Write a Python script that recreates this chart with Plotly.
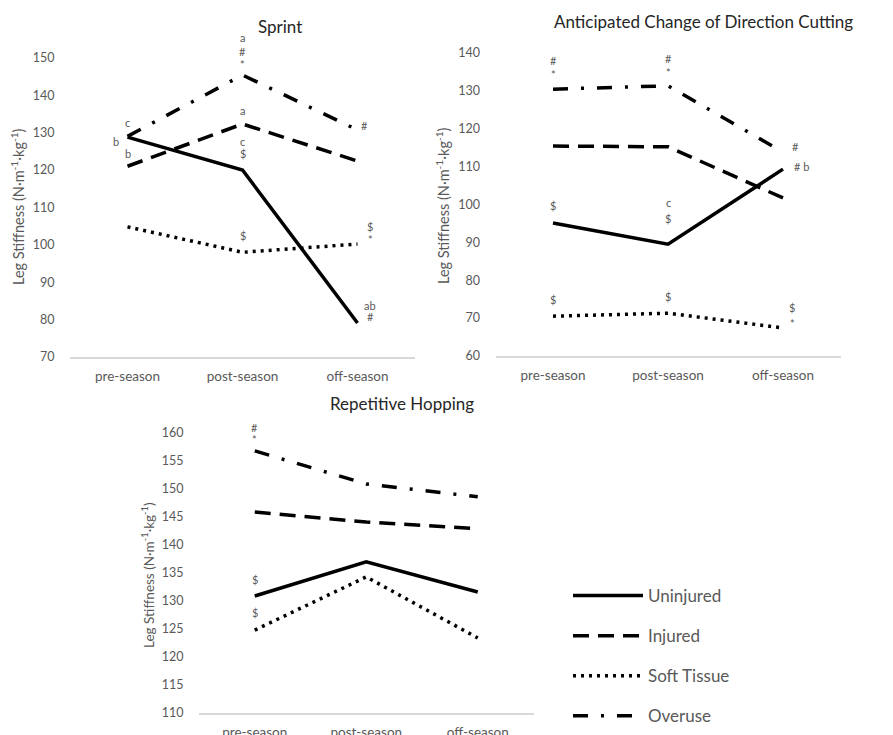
import plotly.graph_objects as go

W, H = 893, 735

categories = ["pre-season", "post-season", "off-season"]
series_names = ["Uninjured", "Injured", "Soft Tissue", "Overuse"]

# Sprint
sprint_uninjured = [128.8, 120.0, 79.1]
sprint_injured = [121.0, 132.3, 122.4]
sprint_soft = [104.8, 98.0, 100.2]
sprint_overuse = [129.0, 145.4, 130.7]

# Anticipated change of direction cutting
acod_uninjured = [95.1, 89.5, 109.3]
acod_injured = [115.4, 115.2, 101.7]
acod_soft = [70.5, 71.3, 67.4]
acod_overuse = [130.4, 131.3, 113.8]

# Repetitive hopping
hop_uninjured = [130.9, 137.0, 131.6]
hop_injured = [145.9, 144.1, 142.9]
hop_soft = [124.8, 134.3, 123.4]
hop_overuse = [156.8, 150.9, 148.6]

sprint_ticks = [70, 80, 90, 100, 110, 120, 130, 140, 150]
acod_ticks = [60, 70, 80, 90, 100, 110, 120, 130, 140]
hop_ticks = [110, 115, 120, 125, 130, 135, 140, 145, 150, 155, 160]

# significance labels: (category index, value level, text)
sprint_labels = [
    (0, 132.8, "c"), (-0.1, 127.5, "b"), (0, 124.3, "b"),
    (1, 155.3, "a"), (1, 151.6, "#"), (1, 148.3, "*"),
    (1, 136.0, "a"), (1, 127.5, "c"), (1, 124.3, "$"), (1, 102.4, "$"),
    (2.06, 132.0, "#"), (2.11, 104.8, "$"), (2.11, 101.3, "*"),
    (2.11, 83.9, "ab"), (2.11, 80.7, "#"),
]
acod_labels = [
    (0, 138.1, "#"), (0, 134.4, "*"), (0, 99.6, "$"), (0, 74.8, "$"),
    (1, 138.6, "#"), (1, 134.9, "*"), (1, 100.6, "c"), (1, 96.4, "$"), (1, 75.8, "$"),
    (2.11, 115.4, "#"), (2.16, 110.1, "# b"), (2.08, 72.7, "$"), (2.08, 68.7, "*"),
]
hop_labels = [
    (0, 160.9, "#"), (0, 158.9, "*"), (0, 133.9, "$"), (0, 128.0, "$"),
]

FONT = "Lato, 'Open Sans', sans-serif"
GRAY = "#595959"

styles = {
    "Uninjured": dict(color="black", width=3.5, dash="solid"),
    "Injured": dict(color="black", width=3.5, dash="16px,9px"),
    "Soft Tissue": dict(color="black", width=3.5, dash="3px,5px"),
    "Overuse": dict(color="black", width=3.5, dash="15px,13px,3px,13px"),
}

panels = [
    dict(name="Sprint", data=[sprint_uninjured, sprint_injured, sprint_soft, sprint_overuse],
         ticks=sprint_ticks, yr=[70, 160], labels=sprint_labels,
         px=(70, 415), base=357, ppu=3.74, title_xy=(280, 27), ytitle_xy=(17, 207), ytsize=14.5),
    dict(name="Anticipated Change of Direction Cutting",
         data=[acod_uninjured, acod_injured, acod_soft, acod_overuse],
         ticks=acod_ticks, yr=[60, 145], labels=acod_labels,
         px=(495.5, 840.5), base=356, ppu=3.79, title_xy=(703, 21), ytitle_xy=(443, 206), ytsize=14.5),
    dict(name="Repetitive Hopping", data=[hop_uninjured, hop_injured, hop_soft, hop_overuse],
         ticks=hop_ticks, yr=[110, 163], labels=hop_labels,
         px=(199, 533.5), base=713, ppu=5.6, title_xy=(402, 403), ytitle_xy=(148, 575), ytsize=13.5),
]

fig = go.Figure()
annotations = []
for i, p in enumerate(panels):
    n = "" if i == 0 else str(i + 1)
    xa, ya = "x" + n, "y" + n
    for s, vals in zip(series_names, p["data"]):
        fig.add_trace(go.Scatter(
            x=categories, y=vals, mode="lines", name=s, line=styles[s],
            xaxis=xa, yaxis=ya, legendgroup=s, showlegend=(i == 0),
            hoverinfo="skip"))
    bottom_px = p["base"]
    top_px = p["base"] - (p["yr"][1] - p["yr"][0]) * p["ppu"]
    fig.layout["xaxis" + n] = dict(
        domain=[p["px"][0] / W, p["px"][1] / W], anchor=ya,
        type="category", range=[-0.5, 2.5], showgrid=False, zeroline=False,
        showline=True, linecolor="#d9d9d9", linewidth=1.5,
        ticks="outside", ticklen=6, tickcolor="rgba(0,0,0,0)",
        tickfont=dict(family=FONT, size=13.5, color=GRAY), fixedrange=True)
    fig.layout["yaxis" + n] = dict(
        domain=[(H - bottom_px) / H, (H - top_px) / H], anchor=xa,
        range=p["yr"], tickvals=p["ticks"], showgrid=False, zeroline=False,
        showline=False, ticks="outside", ticklen=12, tickcolor="rgba(0,0,0,0)",
        tickfont=dict(family=FONT, size=12.5, color=GRAY), fixedrange=True)
    for (cx, cy, txt) in p["labels"]:
        annotations.append(dict(x=cx, y=cy, xref=xa, yref=ya, text=txt, showarrow=False,
                                xanchor="center", yanchor="middle",
                                font=dict(family=FONT, size=11, color=GRAY)))
    annotations.append(dict(x=p["title_xy"][0] / W, y=1 - p["title_xy"][1] / H,
                            xref="paper", yref="paper", text=p["name"], showarrow=False,
                            xanchor="center", yanchor="middle",
                            font=dict(family=FONT, size=17, color="#262626")))
    annotations.append(dict(x=p["ytitle_xy"][0] / W, y=1 - p["ytitle_xy"][1] / H,
                            xref="paper", yref="paper", textangle=-90, showarrow=False,
                            xanchor="center", yanchor="middle",
                            text="Leg Stiffness (N·m<sup>-1</sup>·kg<sup>-1</sup>)",
                            font=dict(family=FONT, size=p["ytsize"], color=GRAY)))

fig.update_layout(
    width=W, height=H, margin=dict(l=0, r=0, t=0, b=0, autoexpand=False),
    paper_bgcolor="white", plot_bgcolor="white",
    annotations=annotations,
    legend=dict(x=568 / W, y=1 - 578 / H, xanchor="left", yanchor="top",
                font=dict(family=FONT, size=17, color=GRAY),
                itemwidth=70, tracegroupgap=15, bgcolor="rgba(0,0,0,0)"),
)

fig.write_html("out.html", config={"displayModeBar": False},
               post_script="document.body.style.margin='0px';")
